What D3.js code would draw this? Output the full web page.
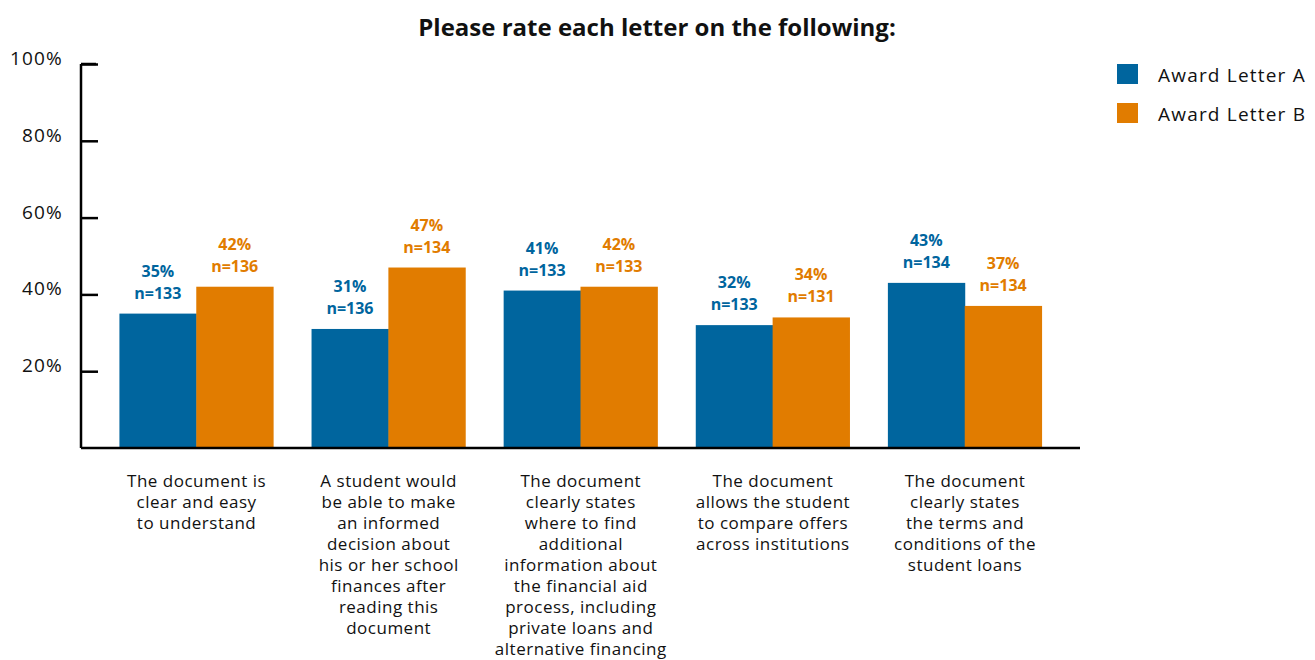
<!DOCTYPE html>
<html><head><meta charset="utf-8">
<script src="https://cdn.jsdelivr.net/npm/d3@7"></script>
<style>body{margin:0;background:#fff}svg{display:block}text{font-family:"Open Sans",Lato,sans-serif}</style>
</head><body><svg id="c" width="1315" height="660"></svg>
<script>
const categories = [
  ["The document is","clear and easy","to understand"],
  ["A student would","be able to make","an informed","decision about","his or her school","finances after","reading this","document"],
  ["The document","clearly states","where to find","additional","information about","the financial aid","process, including","private loans and","alternative financing"],
  ["The document","allows the student","to compare offers","across institutions"],
  ["The document","clearly states","the terms and","conditions of the","student loans"]
];
const seriesNames = ["Award Letter A","Award Letter B"];
const valuesA = [35,31,41,32,43];
const valuesB = [42,47,42,34,37];
const nA = [133,136,133,133,134];
const nB = [136,134,133,131,134];
const yTicks = [20,40,60,80,100];
const colors = ["#00659e","#e17c00"];

const svg = d3.select("#c");
const x0 = d3.scaleBand().domain(d3.range(categories.length)).range([81,1080]).paddingInner(0.2).paddingOuter(0.2);
const x1 = d3.scaleBand().domain([0,1]).range([0,x0.bandwidth()]);
const y = d3.scaleLinear().domain([0,100]).range([448,64]);

svg.append("text").attr("x",657).attr("y",36).attr("text-anchor","middle")
  .attr("font-size",24).attr("font-weight","bold").attr("fill","#111").text("Please rate each letter on the following:");

// bars
const data = categories.map((c,i)=>({i, vals:[{s:0,v:valuesA[i],n:nA[i]},{s:1,v:valuesB[i],n:nB[i]}]}));
const g = svg.append("g");
const grp = g.selectAll("g.grp").data(data).join("g").attr("transform",d=>`translate(${x0(d.i)},0)`);
grp.selectAll("rect").data(d=>d.vals).join("rect")
  .attr("x",d=>x1(d.s)).attr("width",x1.bandwidth()+0.5)
  .attr("y",d=>y(d.v)).attr("height",d=>y(0)-y(d.v)).attr("fill",d=>colors[d.s]);
grp.selectAll("text.p").data(d=>d.vals).join("text").attr("class","p")
  .attr("x",d=>x1(d.s)+x1.bandwidth()/2).attr("y",d=>y(d.v)-37).attr("text-anchor","middle")
  .attr("font-size",16).attr("font-weight","bold").attr("fill",d=>colors[d.s]).text(d=>d.v+"%");
grp.selectAll("text.n").data(d=>d.vals).join("text").attr("class","n")
  .attr("x",d=>x1(d.s)+x1.bandwidth()/2).attr("y",d=>y(d.v)-15).attr("text-anchor","middle")
  .attr("font-size",16).attr("font-weight","bold").attr("fill",d=>colors[d.s]).text(d=>"n="+d.n);

// y axis
const ya = svg.append("g").attr("transform","translate(81,0)")
  .call(d3.axisRight(y).tickValues(yTicks).tickSize(17).tickFormat(""));
ya.select(".domain").attr("d",`M0,${y(100)}H15M0,${y(100)}V${y(0)}`).attr("stroke","#000").attr("stroke-width",2.5);
ya.selectAll(".tick line").attr("stroke","#000").attr("stroke-width",2.5);
svg.append("g").selectAll("text").data(yTicks).join("text")
  .attr("x",63).attr("y",d=>y(d)+1).attr("text-anchor","end").attr("font-size",19)
  .attr("letter-spacing",1.2).attr("fill","#111")
  .text(d=>d+"%");

// x axis
const xa = svg.append("g").attr("transform",`translate(0,${y(0)})`)
  .call(d3.axisBottom(x0).tickSize(0).tickFormat(""));
xa.select(".domain").attr("d","M81,0H1080").attr("stroke","#000").attr("stroke-width",2.5);
const cl = svg.append("g").selectAll("text").data(categories).join("text")
  .attr("x",(d,i)=>x0(i)+x0.bandwidth()/2+0.3).attr("y",487).attr("text-anchor","middle")
  .attr("font-size",17).attr("letter-spacing",0.5).attr("fill","#111");
cl.selectAll("tspan").data(d=>d).join("tspan")
  .attr("x",function(){return this.parentNode.getAttribute("x");})
  .attr("dy",(d,j)=>j===0?0:21).text(d=>d);

// legend
const lg = svg.append("g").selectAll("g").data(seriesNames).join("g")
  .attr("transform",(d,i)=>`translate(1117,${64+i*39})`);
lg.append("rect").attr("width",21).attr("height",20).attr("fill",(d,i)=>colors[i]);
lg.append("text").attr("x",41).attr("y",18).attr("font-size",19).attr("letter-spacing",1.2).attr("fill","#111").text(d=>d);
</script></body></html>
